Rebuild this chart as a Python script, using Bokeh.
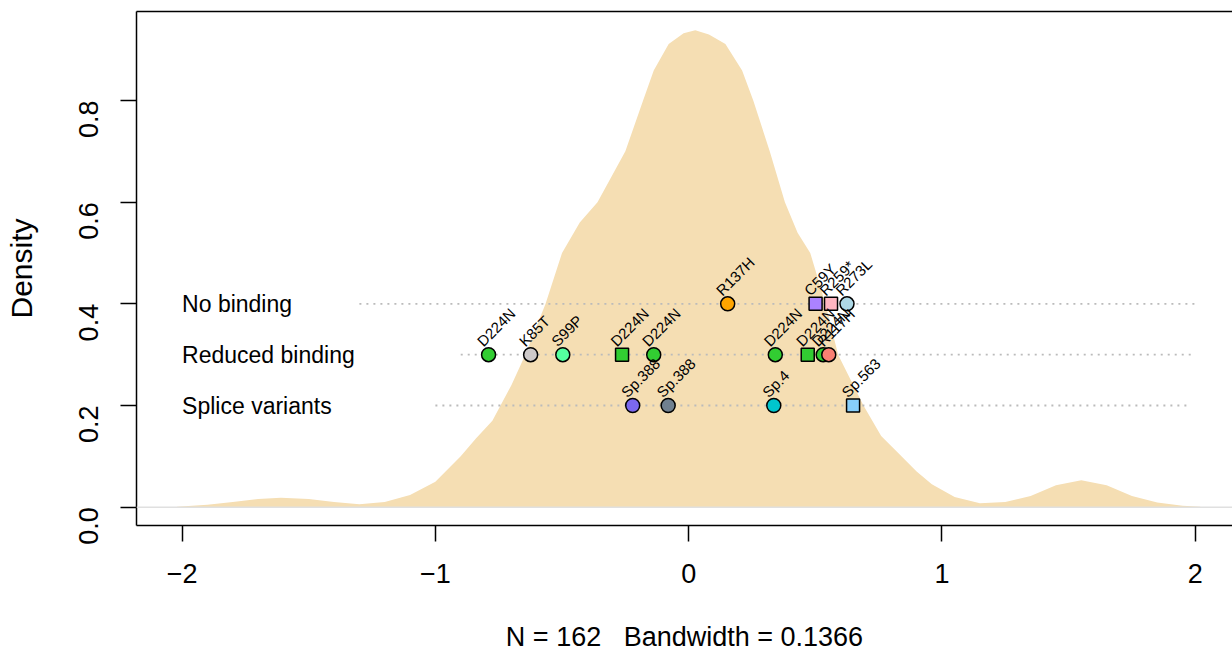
import math
from bokeh.plotting import figure
from bokeh.models import Range1d, FixedTicker, LinearAxis, Span, ColumnDataSource
from bokeh.core.properties import value
from bokeh.embed import file_html
from bokeh.resources import INLINE

# ---- data ----
density_x = [-2.02, -1.9, -1.8, -1.7, -1.61, -1.5, -1.4, -1.3, -1.2, -1.1, -1.0, -0.9,
             -0.84, -0.775, -0.70, -0.645, -0.565, -0.50, -0.43, -0.36, -0.25, -0.18,
             -0.138, -0.079, -0.02, 0.026, 0.08, 0.145, 0.211, 0.255, 0.32, 0.38, 0.43,
             0.48, 0.54, 0.59, 0.69, 0.76, 0.84, 0.90, 0.96, 1.05, 1.15, 1.25, 1.35,
             1.45, 1.55, 1.65, 1.75, 1.85, 1.95, 2.02]
density_y = [0.001, 0.005, 0.010, 0.016, 0.0185, 0.016, 0.010, 0.006, 0.010, 0.024, 0.050, 0.100,
             0.135, 0.170, 0.240, 0.300, 0.400, 0.500, 0.560, 0.600, 0.700, 0.800,
             0.859, 0.911, 0.932, 0.938, 0.930, 0.911, 0.859, 0.800, 0.700, 0.600, 0.540,
             0.500, 0.400, 0.300, 0.200, 0.140, 0.100, 0.070, 0.045, 0.020, 0.008, 0.010, 0.022,
             0.043, 0.053, 0.043, 0.022, 0.009, 0.003, 0.001]

row_names = ["No binding", "Reduced binding", "Splice variants"]
row_levels = [0.4, 0.3, 0.2]
row_line_start = [-1.30, -0.90, -1.00]
row_line_end = [2.0, 2.0, 1.98]

var_labels = ["R137H", "C59Y", "R259*", "R273L",
              "D224N", "K85T", "S99P", "D224N", "D224N", "D224N", "D224N", "D224N", "R117H",
              "Sp.388", "Sp.388", "Sp.4", "Sp.563"]
var_x = [0.154, 0.501, 0.562, 0.625,
         -0.790, -0.624, -0.497, -0.263, -0.138, 0.342, 0.470, 0.531, 0.553,
         -0.221, -0.081, 0.336, 0.649]
var_level = [0.4, 0.4, 0.4, 0.4,
             0.3, 0.3, 0.3, 0.3, 0.3, 0.3, 0.3, 0.3, 0.3,
             0.2, 0.2, 0.2, 0.2]
var_marker = ["circle", "square", "square", "circle",
              "circle", "circle", "circle", "square", "circle", "circle", "square", "circle", "circle",
              "circle", "circle", "circle", "square"]
var_color = ["#FFA500", "#AB82FF", "#FFB6C1", "#ADD8E6",
             "#32CD32", "#CDC9C9", "#54FF9F", "#32CD32", "#32CD32", "#32CD32", "#32CD32", "#32CD32", "#FA8072",
             "#7B68EE", "#708090", "#00C5CD", "#87CEFA"]

x_ticks = [-2, -1, 0, 1, 2]
y_ticks = [0.0, 0.2, 0.4, 0.6, 0.8]
x_title = "N = 162 \u00a0 Bandwidth = 0.1366"
y_title = "Density"

FONT = "Liberation Sans"

p = figure(width=1232, height=654, output_backend="svg", toolbar_location=None,
           x_range=Range1d(-2.18, 2.147), y_range=Range1d(-0.036, 0.975),
           min_border_left=136, min_border_right=0, min_border_top=11, min_border_bottom=129)
p.outline_line_color = None
p.grid.visible = False
p.background_fill_color = "white"
p.border_fill_color = "white"

# density fill
p.varea(x=density_x, y1=[0] * len(density_x), y2=density_y, fill_color="#F5DEB3")

# zero line
p.add_layout(Span(location=0, dimension="width", line_color="#E0E0E0", line_width=1.5))

# dotted row lines
for s, e, lv in zip(row_line_start, row_line_end, row_levels):
    p.line([s, e], [lv, lv], line_color="#BBBBBB", line_width=1.8, line_dash="2 5")

# row labels
p.text(x=[-2.0] * 3, y=row_levels, text=row_names, text_font=value(FONT),
       text_font_size="23px", text_baseline="middle", text_align="left", text_color="black")

# variant points
circ = [i for i, m in enumerate(var_marker) if m == "circle"]
sq = [i for i, m in enumerate(var_marker) if m == "square"]
for idx, mk, sz in ((sq, "square", 13), (circ, "circle", 14)):
    src = ColumnDataSource(dict(x=[var_x[i] for i in idx], y=[var_level[i] for i in idx],
                                c=[var_color[i] for i in idx]))
    p.scatter("x", "y", source=src, marker=mk, size=sz, fill_color="c",
              line_color="black", line_width=1.5)

p.text(x=var_x, y=var_level, text=var_labels, angle=math.pi / 4,
       x_offset=-9, y_offset=-11, text_font=value(FONT), text_font_size="15px",
       text_align="left", text_baseline="alphabetic", text_color="black")

# axes
for ax in (p.xaxis[0], p.yaxis[0]):
    ax.major_tick_in = 0
    ax.major_tick_out = 16
    ax.minor_tick_line_color = None
    ax.axis_line_width = 1.5
    ax.major_tick_line_width = 1.5
    ax.major_label_text_font = FONT
    ax.major_label_text_font_size = "27px"
    ax.major_label_text_color = "black"
    ax.axis_label_text_font = FONT
    ax.axis_label_text_font_size = "27px"
    ax.axis_label_text_font_style = "normal"
    ax.axis_label_text_color = "black"

p.xaxis.ticker = FixedTicker(ticks=x_ticks)
p.xaxis.major_label_overrides = {t: (str(t) if t >= 0 else "\u2212" + str(-t)) for t in x_ticks}
p.xaxis.major_label_standoff = 22
p.xaxis.axis_label = x_title
p.xaxis.axis_label_standoff = 36

p.yaxis.ticker = FixedTicker(ticks=y_ticks)
p.yaxis.major_label_overrides = {t: f"{t:.1f}" for t in y_ticks}
p.yaxis.major_label_orientation = math.pi / 2
p.yaxis.major_label_standoff = 32
p.yaxis.axis_label = y_title
p.yaxis.axis_label_text_font_size = "30px"
p.yaxis.axis_label_standoff = 29

top = LinearAxis(ticker=FixedTicker(ticks=[]), axis_line_width=1.5,
                 major_label_text_font_size="0px", major_tick_line_color=None,
                 minor_tick_line_color=None)
p.add_layout(top, "above")

open("out.html", "w").write(file_html(p, INLINE))
